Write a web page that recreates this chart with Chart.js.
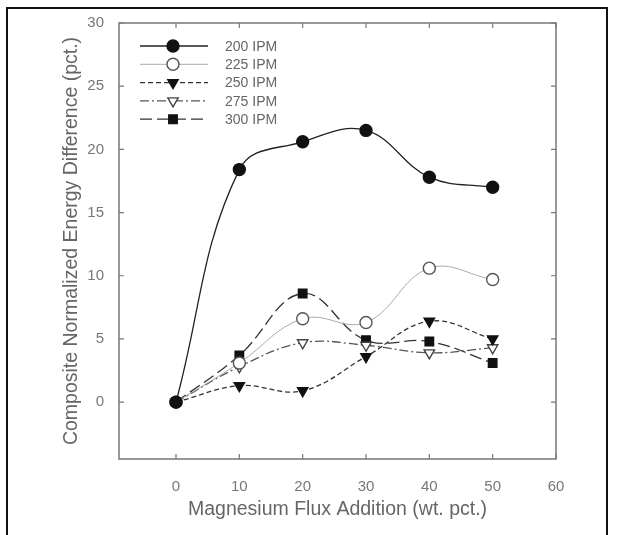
<!DOCTYPE html>
<html>
<head>
<meta charset="utf-8">
<script src="https://cdn.jsdelivr.net/npm/chart.js@4/dist/chart.umd.min.js"></script>
<style>
  html, body { margin: 0; padding: 0; background: #fff; }
  #wrap { position: relative; width: 617px; height: 535px; overflow: hidden; }
  #frame { position: absolute; left: 6px; top: 7px; width: 598px; height: 600px; border: 2px solid #111; }
  #wrap canvas { position: absolute; left: 0; top: 0; }
</style>
</head>
<body>
<div id="wrap">
  <div id="frame"></div>
  <canvas id="chart" width="617" height="535"></canvas>
</div>
<script>
// flux addition (wt. pct.)
const fluxAdd = [0, 10, 20, 30, 40, 50];
// composite normalized energy difference (pct.) per travel speed
const ipm200 = [0, 18.4, 20.6, 21.5, 17.8, 17.0];
const ipm225 = [0, 3.1, 6.6, 6.3, 10.6, 9.7];
const ipm250 = [0, 1.3, 0.9, 3.6, 6.4, 5.0];
const ipm275 = [0, 2.8, 4.7, 4.5, 3.9, 4.3];
const ipm300 = [0, 3.7, 8.6, 4.9, 4.8, 3.1];
const seriesNames = ['200 IPM', '225 IPM', '250 IPM', '275 IPM', '300 IPM'];
const xTicks = [0, 10, 20, 30, 40, 50, 60];
const yTicks = [0, 5, 10, 15, 20, 25, 30];

const toPoints = arr => arr.map((v, i) => ({ x: fluxAdd[i], y: v }));

function makeSet(label, values, style) {
    return Object.assign({
        label: label,
        data: toPoints(values),
        tension: 0.4,
        borderWidth: 1.3,
        pointRadius: 6,
        pointBorderWidth: 1.4,
        fill: false
    }, style);
}

const datasets = [
    makeSet(seriesNames[0], ipm200, { borderColor: '#222', pointBackgroundColor: '#111', pointBorderColor: '#111', pointStyle: 'circle' }),
    makeSet(seriesNames[1], ipm225, { borderColor: '#aaa', borderWidth: 1, pointBackgroundColor: '#fff', pointBorderColor: '#555', pointStyle: 'circle' }),
    makeSet(seriesNames[2], ipm250, { borderColor: '#333', borderDash: [5, 3], pointBackgroundColor: '#111', pointBorderColor: '#111', pointStyle: 'triangle', pointRotation: 180 }),
    makeSet(seriesNames[3], ipm275, { borderColor: '#555', borderDash: [9, 3, 2, 3], pointBackgroundColor: '#fff', pointBorderColor: '#444', pointStyle: 'triangle', pointRotation: 180 }),
    makeSet(seriesNames[4], ipm300, { borderColor: '#333', borderDash: [12, 5], pointBackgroundColor: '#111', pointBorderColor: '#111', pointStyle: 'rect', pointRadius: 6 })
];

// plot box, inward ticks on every side, and a line+marker legend
const boxPlugin = {
    id: 'boxPlugin',
    afterDraw(chart) {
        const ctx = chart.ctx;
        const a = chart.chartArea;
        const xs = chart.scales.x, ys = chart.scales.y;
        ctx.save();
        ctx.strokeStyle = '#777';
        ctx.lineWidth = 1.5;
        ctx.strokeRect(a.left, a.top, a.right - a.left, a.bottom - a.top);
        ctx.lineWidth = 1.2;
        ctx.beginPath();
        xTicks.forEach(v => {
            const px = xs.getPixelForValue(v);
            ctx.moveTo(px, a.bottom); ctx.lineTo(px, a.bottom - 5);
            ctx.moveTo(px, a.top); ctx.lineTo(px, a.top + 5);
        });
        yTicks.forEach(v => {
            const py = ys.getPixelForValue(v);
            ctx.moveTo(a.left, py); ctx.lineTo(a.left + 5, py);
            ctx.moveTo(a.right, py); ctx.lineTo(a.right - 5, py);
        });
        ctx.stroke();

        // legend
        const x0 = a.left + 21, x1 = a.left + 89, xm = a.left + 54, xt = a.left + 106;
        chart.data.datasets.forEach((ds, i) => {
            const y = a.top + 23 + i * 18.3;
            ctx.strokeStyle = ds.borderColor;
            ctx.lineWidth = ds.borderWidth;
            ctx.setLineDash(ds.borderDash || []);
            ctx.beginPath();
            ctx.moveTo(x0, y); ctx.lineTo(x1, y);
            ctx.stroke();
            ctx.setLineDash([]);
            ctx.fillStyle = ds.pointBackgroundColor;
            ctx.strokeStyle = ds.pointBorderColor;
            ctx.lineWidth = ds.pointBorderWidth;
            Chart.helpers.drawPoint(ctx, {
                pointStyle: ds.pointStyle,
                rotation: ds.pointRotation || 0,
                radius: ds.pointRadius,
                borderWidth: ds.pointBorderWidth
            }, xm, y);
            ctx.fillStyle = '#666';
            ctx.font = '14px "Liberation Sans", Arial, sans-serif';
            ctx.textBaseline = 'middle';
            ctx.textAlign = 'left';
            ctx.fillText(ds.label, xt, y + 1);
        });
        ctx.restore();
    }
};

new Chart(document.getElementById('chart'), {
    type: 'line',
    data: { datasets: datasets },
    options: {
        responsive: false,
        animation: false,
        layout: { padding: { left: 56, right: 61, top: 23, bottom: 0 } },
        plugins: { legend: { display: false }, tooltip: { enabled: false } },
        scales: {
            x: {
                type: 'linear',
                min: -9,
                max: 60,
                afterBuildTicks: axis => { axis.ticks = xTicks.map(v => ({ value: v })); },
                afterFit: axis => { axis.height = 76; },
                grid: { display: false },
                border: { display: false },
                ticks: { color: '#777', padding: 11, font: { size: 15, family: '"Liberation Sans", Arial, sans-serif' } },
                title: {
                    display: true,
                    text: 'Magnesium Flux Addition (wt. pct.)',
                    color: '#666',
                    padding: { top: 0, bottom: 13.5 },
                    font: { size: 19.5, family: '"Liberation Sans", Arial, sans-serif' }
                }
            },
            y: {
                min: -4.5,
                max: 30,
                afterBuildTicks: axis => { axis.ticks = yTicks.map(v => ({ value: v })); },
                afterFit: axis => { axis.width = 63; },
                grid: { display: false },
                border: { display: false },
                ticks: { color: '#777', padding: 7, font: { size: 15, family: '"Liberation Sans", Arial, sans-serif' } },
                title: {
                    display: true,
                    text: 'Composite Normalized Energy Difference (pct.)',
                    color: '#666',
                    padding: { top: 4, bottom: 0 },
                    font: { size: 19.5, family: '"Liberation Sans", Arial, sans-serif' }
                }
            }
        }
    },
    plugins: [boxPlugin]
});
</script>
</body>
</html>
